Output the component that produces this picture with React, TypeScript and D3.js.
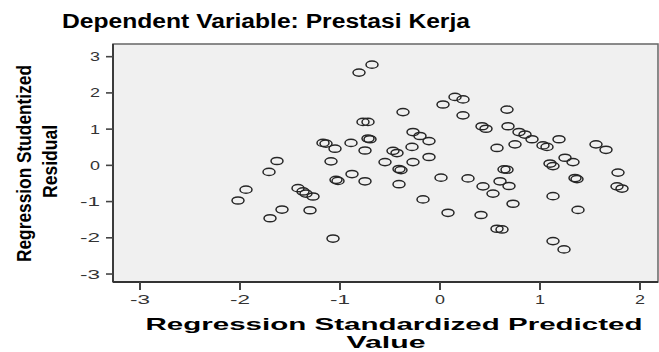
import React from "react";
import * as d3 from "d3";

// standardized predicted value (x) and studentized residual (y)
const predicted = [
  -0.81, -0.68, -0.77, -0.72, -0.72, -0.7, -1.17, -1.14, -1.05, -0.89, -0.75, -1.63, -1.09, -1.71, -0.88,
  -1.04, -1.02, -0.75, -1.94, -2.02, -1.42, -1.37, -1.34, -1.27, -1.58, -1.7, -1.3, -1.07, -0.37, 0.03,
  0.15, 0.23, 0.23, 0.42, 0.46, -0.27, -0.2, -0.11, -0.28, -0.11, -0.47, -0.43, -0.55, -0.27, -0.41,
  -0.39, -0.41, 0.01, 0.28, 0.43, 0.53, -0.17, 0.08, 0.41, 0.57, 0.62, 0.67, 0.57, 0.64, 0.67,
  0.6, 0.69, 0.68, 0.79, 0.85, 0.92, 1.03, 1.07, 1.19, 0.75, 1.56, 1.66, 1.1, 1.13, 1.25,
  1.33, 1.78, 1.35, 1.37, 1.77, 1.82, 1.13, 1.38, 0.73, 1.13, 1.24,
];
const residual = [
  2.56, 2.78, 1.2, 1.2, 0.74, 0.72, 0.62, 0.6, 0.46, 0.62, 0.41, 0.12, 0.11, -0.18, -0.24,
  -0.4, -0.43, -0.44, -0.67, -0.97, -0.63, -0.72, -0.78, -0.86, -1.22, -1.46, -1.24, -2.02, 1.47, 1.68,
  1.89, 1.82, 1.38, 1.08, 1.01, 0.92, 0.81, 0.67, 0.51, 0.23, 0.4, 0.34, 0.09, 0.09, -0.1,
  -0.13, -0.52, -0.34, -0.36, -0.58, -0.78, -0.94, -1.31, -1.37, -1.75, -1.77, 1.54, 0.48, -0.11, -0.12,
  -0.44, -0.57, 1.08, 0.92, 0.85, 0.72, 0.55, 0.51, 0.72, 0.58, 0.58, 0.43, 0.05, -0.02, 0.21,
  0.09, -0.2, -0.35, -0.38, -0.58, -0.64, -0.85, -1.23, -1.06, -2.09, -2.32,
];
const xTicks = [-3, -2, -1, 0, 1, 2];
const yTicks = [-3, -2, -1, 0, 1, 2, 3];

const W = 659;
const H = 352;

const App = () => {
  const left = 113, right = 658, top = 44, bottom = 282;
  const x = d3.scaleLinear().domain([-3.27, 2.18]).range([left, right]);
  const y = d3.scaleLinear().domain([-3.22, 3.35]).range([bottom, top]);
  const points = d3.zip(predicted, residual);

  return (
    <svg width={W} height={H} style={{ position: "absolute", left: 0, top: 0 }}
      fontFamily="'Liberation Sans', Arial, sans-serif">
      <rect width={W} height={H} fill="#fff" />
      <text x={62} y={28} fontSize={20} fontWeight="bold" textLength={408}
        lengthAdjust="spacingAndGlyphs">Dependent Variable: Prestasi Kerja</text>

      {/* plot frame */}
      <rect x={left} y={top} width={right - left} height={bottom - top} fill="#f0f0f0"
        stroke="#666" strokeWidth={1.5} />
      <line x1={left} x2={left} y1={top} y2={bottom} stroke="#333" strokeWidth={1.8} />
      <line x1={left} x2={right} y1={bottom} y2={bottom} stroke="#333" strokeWidth={1.8} />

      {/* y axis */}
      {yTicks.map((t) => (
        <g key={t}>
          <line x1={left - 7} x2={left} y1={y(t)} y2={y(t)} stroke="#444" strokeWidth={1.6} />
          <text x={100} y={y(t) + 4.5} fontSize={12} fill="#333" textAnchor="end"
            textLength={t < 0 ? 20 : 10} lengthAdjust="spacingAndGlyphs">{t}</text>
        </g>
      ))}

      {/* x axis */}
      {xTicks.map((t) => (
        <g key={t}>
          <line x1={x(t)} x2={x(t)} y1={bottom} y2={bottom + 8} stroke="#444" strokeWidth={2} />
          <text x={x(t)} y={304} fontSize={12} fill="#333" textAnchor="middle"
            textLength={t < 0 ? 20 : 10} lengthAdjust="spacingAndGlyphs">{t}</text>
        </g>
      ))}

      {/* points */}
      {points.map(([px, py], i) => (
        <ellipse key={i} cx={x(px)} cy={y(py)} rx={6} ry={3.6} fill="none"
          stroke="#262626" strokeWidth={1.5} />
      ))}

      {/* axis titles */}
      <text x={394} y={330} fontSize={16.5} fontWeight="bold" textAnchor="middle" textLength={497}
        lengthAdjust="spacingAndGlyphs">Regression Standardized Predicted</text>
      <text x={386} y={348} fontSize={16.5} fontWeight="bold" textAnchor="middle" textLength={79}
        lengthAdjust="spacingAndGlyphs">Value</text>

      <text transform="translate(31,163.5) scale(1.5,1) rotate(-90)" fontSize={14} fontWeight="bold"
        textAnchor="middle" textLength={197} lengthAdjust="spacingAndGlyphs">Regression Studentized</text>
      <text transform="translate(57,161.5) scale(1.5,1) rotate(-90)" fontSize={14} fontWeight="bold"
        textAnchor="middle" textLength={73} lengthAdjust="spacingAndGlyphs">Residual</text>
    </svg>
  );
};

export default App;
